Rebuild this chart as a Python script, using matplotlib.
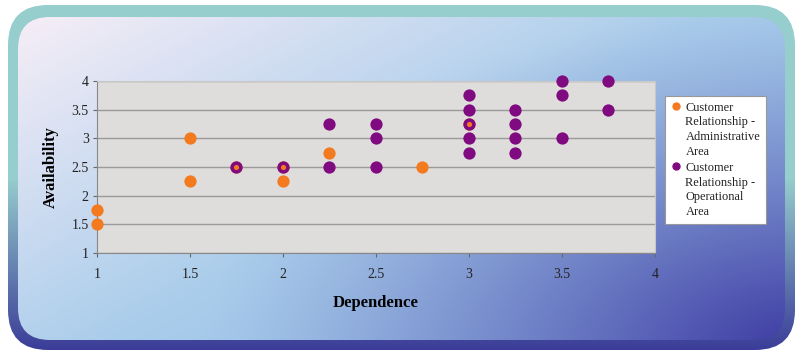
import numpy as np
import matplotlib
matplotlib.use("Agg")
import matplotlib.pyplot as plt
from matplotlib.patches import FancyBboxPatch
from matplotlib.lines import Line2D

# ---- data ----
admin_x = [1, 1, 1.5, 1.5, 1.75, 2, 2, 2.25, 2.75, 3]
admin_y = [1.5, 1.75, 2.25, 3, 2.5, 2.25, 2.5, 2.75, 2.5, 3.25]
oper_x = [1.75, 2, 2.25, 2.25, 2.5, 2.5, 2.5, 3, 3, 3, 3, 3, 3.25, 3.25, 3.25, 3.25, 3.5, 3.5, 3.5, 3.75, 3.75]
oper_y = [2.5, 2.5, 2.5, 3.25, 2.5, 3, 3.25, 2.75, 3, 3.25, 3.5, 3.75, 2.75, 3, 3.25, 3.5, 3, 3.75, 4, 3.5, 4]
x_ticks = [1, 1.5, 2, 2.5, 3, 3.5, 4]
y_ticks = [1, 1.5, 2, 2.5, 3, 3.5, 4]
legend_labels = ["Customer\nRelationship -\nAdministrative\nArea",
                 "Customer\nRelationship -\nOperational\nArea"]
x_label = "Dependence"
y_label = "Availability"

ORANGE = "#f47a20"
PURPLE = "#800a80"

W, H = 803, 356
fig = plt.figure(figsize=(W / 100, H / 100), dpi=100)
fig.patch.set_facecolor("white")

# ---- background panel ----
bg = fig.add_axes([0, 0, 1, 1])
bg.set_xlim(0, W)
bg.set_ylim(H, 0)
bg.axis("off")

yy, xx = np.mgrid[0:H, 0:W]
u = xx / W
v = yy / H

# border gradient: teal top -> dark blue bottom
bt = np.clip((v - 0.5) / 0.5, 0, 1)[..., None]
bcol = (1 - bt) * np.array([150, 205, 205]) + bt * np.array([55, 55, 150])
im1 = bg.imshow(bcol / 255.0, extent=[0, W, H, 0], zorder=0, interpolation="bilinear")
outer = FancyBboxPatch((8, 5), W - 16, H - 11, boxstyle="round,pad=0,rounding_size=40",
                       transform=bg.transData, facecolor="none", edgecolor="none")
bg.add_patch(outer)
im1.set_clip_path(outer)

# main gradient
t = np.clip((u * 0.55 + v * 0.45), 0, 1)[..., None]
c0 = np.array([252, 240, 248])
c1 = np.array([170, 205, 235])
c2 = np.array([140, 180, 228])
base = np.where(t < 0.5, c0 + (c1 - c0) * (t / 0.5), c1 + (c2 - c1) * ((t - 0.5) / 0.5))
dist = np.sqrt(((1 - u) * 1.0) ** 2 + ((1 - v) * 0.75) ** 2)
d = np.clip(1 - dist / 0.75, 0, 1) ** 1.3
d = d[..., None]
col = base * (1 - d) + np.array([60, 55, 160]) * d
im2 = bg.imshow(col / 255.0, extent=[0, W, H, 0], zorder=1, interpolation="bilinear")
inner = FancyBboxPatch((18, 17), W - 36, H - 33, boxstyle="round,pad=0,rounding_size=32",
                       transform=bg.transData, facecolor="none", edgecolor="none")
bg.add_patch(inner)
im2.set_clip_path(inner)

# ---- chart ----
ax = fig.add_axes([97 / W, 1 - 253 / H, (655 - 97) / W, (253 - 81) / H])
ax.set_facecolor("#dedddb")
ax.set_xlim(1, 4)
ax.set_ylim(1, 4)
ax.set_xticks(x_ticks)
ax.set_yticks(y_ticks)
ax.set_xticklabels([f"{t:g}" for t in x_ticks], family="Liberation Serif", fontsize=10)
ax.set_yticklabels([f"{t:g}" for t in y_ticks], family="Liberation Serif", fontsize=10)
ax.yaxis.grid(True, color="#9a9a9a", linewidth=1.0)
ax.set_axisbelow(True)
for s in ["top", "right"]:
    ax.spines[s].set_color("#c8c8c8")
for s in ["left", "bottom"]:
    ax.spines[s].set_color("#888888")
ax.tick_params(axis="both", colors="#666666", length=3, labelcolor="#222222", pad=3)
ax.tick_params(axis="x", pad=8)

ax.scatter(admin_x, admin_y, s=78, color=ORANGE, zorder=3, clip_on=False, linewidths=0)
ax.scatter(oper_x, oper_y, s=78, color=PURPLE, zorder=4, clip_on=False, linewidths=0)
admin_pts = set(zip(admin_x, admin_y))
ov = [p for p in zip(oper_x, oper_y) if p in admin_pts]
if ov:
    ox, oy = zip(*ov)
    ax.scatter(ox, oy, s=14, color=ORANGE, zorder=5, clip_on=False, linewidths=0)

ax.set_xlabel(x_label, family="Liberation Serif", fontweight="bold", fontsize=12, labelpad=10)
ax.set_ylabel(y_label, family="Liberation Serif", fontweight="bold", fontsize=12, labelpad=9)

handles = [Line2D([], [], marker="o", linestyle="none", color=ORANGE, markersize=5),
           Line2D([], [], marker="o", linestyle="none", color=PURPLE, markersize=5)]
leg = fig.legend(handles, legend_labels, loc="upper left",
                 bbox_to_anchor=(665 / W, 1 - 96 / H),
                 prop={"family": "Liberation Serif", "size": 8.9},
                 frameon=True, fancybox=False, edgecolor="#999999", framealpha=1,
                 handlelength=0.8, handletextpad=0.4, borderpad=0.45, labelspacing=0.35,
                 borderaxespad=0)
leg.get_frame().set_linewidth(0.8)
for txt in leg.get_texts():
    txt.set_linespacing(1.3)
    txt.set_color("#222222")
try:
    for hp in leg._legend_handle_box.get_children():
        for row in hp.get_children():
            row.align = "top"
except Exception:
    pass

fig.savefig("out.png", dpi=100)
